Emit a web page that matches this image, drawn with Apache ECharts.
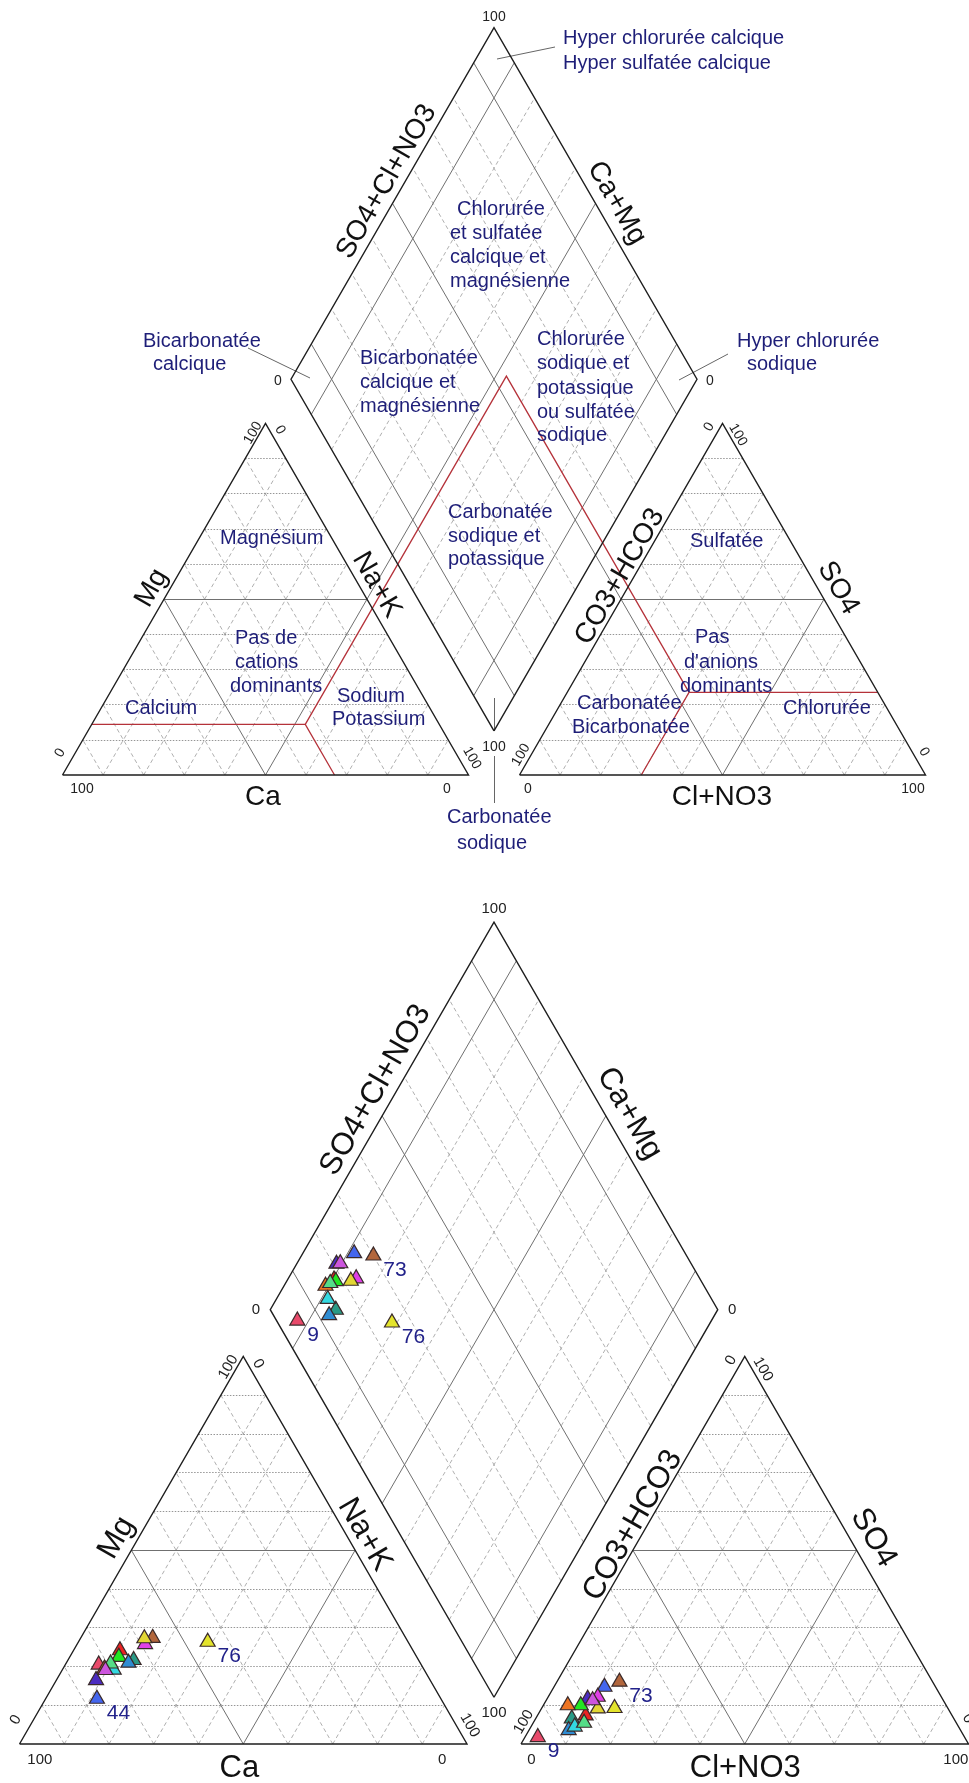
<!DOCTYPE html>
<html>
<head>
<meta charset="utf-8">
<script src="https://cdn.jsdelivr.net/npm/echarts@6/dist/echarts.min.js"></script>
<style>
html, body { margin: 0; padding: 0; background: #fff; }
#chart { width: 969px; height: 1783px; }
</style>
</head>
<body>
<div id="chart"></div>
<script>
// ---- samples plotted on the lower diagram (meq %) ----
var sampleIds    = ['9', '44', '', '73', '76', '', '', '', '', '', '', '', '', '', ''];
var sampleColors = ['#e8496a', '#4466ee', '#4b2cc0', '#b2663c', '#e4e42c', '#e040e6', '#e2d634', '#ec2222',
                    '#22e622', '#2a9a86', '#2f8cd2', '#ee7422', '#33d8e0', '#55dd88', '#cc55dd'];
var mgPct  = [21.0, 12.2, 17.0, 27.9, 26.9, 26.3, 27.8, 24.7, 23.0, 22.2, 21.5, 20.0, 19.7, 21.3, 19.6];
var nakPct = [ 7.2, 11.2,  8.6, 15.8, 28.6, 14.9, 14.0, 10.1, 10.7, 14.4, 13.6,  9.0, 11.2,  9.7,  9.4];
var so4Pct = [ 2.3, 15.3, 12.2, 16.6,  9.8, 12.7,  9.7,  7.9, 10.5,  7.1,  4.1, 10.5,  5.0,  6.0, 11.8];
var clPct  = [ 2.6, 11.0,  8.8, 13.7, 16.0, 10.8, 12.3, 10.5,  8.1,  7.8,  8.6,  5.2,  9.5, 11.1, 10.1];
var labelsCation  = ['76', '44'];
var labelsDiamond = ['73', '9', '76'];
var labelsAnion   = ['73', '9'];

// classification boundaries of the upper diagram (%)
var bndMg = 14.4, bndCa = 33, bndSO4 = 23.5, bndCl = 30;

// tick labels
var tick0 = '0', tick100 = '100';

var S3 = Math.sqrt(3) / 2;

function piper(cx, baseY, L, gap) {
    return { cx: cx, baseY: baseY, L: L, gap: gap, s: L / 406,
             lx: cx - gap / 2 - L, rx: cx + gap / 2, dy: baseY - gap * S3 };
}
// cation triangle: Ca bottom-left, Na+K bottom-right, Mg top
function cat(p, mg, nak) { return [p.lx + p.L * (nak + mg / 2) / 100, p.baseY - p.L * S3 * mg / 100]; }
// anion triangle: CO3+HCO3 bottom-left, Cl+NO3 bottom-right, SO4 top
function an(p, so4, cl) { return [p.rx + p.L * (cl + so4 / 2) / 100, p.baseY - p.L * S3 * so4 / 100]; }
// diamond: u = Ca+Mg, v = SO4+Cl
function dia(p, u, v) { return [p.cx + p.L * (v - u) / 200, p.dy - p.L * S3 * (u + v) / 100]; }
function tp(p, x, y) { return [p.cx + (x - 494) * p.s, p.baseY + (y - 775) * p.s]; }

var pTop = piper(494, 775, 406, 51);
var pBot = piper(494, 1744, 447.5, 54);

var dashed = [], dotted = [], solid = [], frame = [], red = [], leaders = [];

function addGrid(p) {
    for (var k = 10; k < 100; k += 10) {
        var b = k === 50 ? solid : dashed;
        var h = k === 50 ? solid : dotted;
        h.push({ coords: [cat(p, k, 0), cat(p, k, 100 - k)] });
        b.push({ coords: [cat(p, 0, 100 - k), cat(p, 100 - k, 0)] });
        b.push({ coords: [cat(p, 0, k), cat(p, 100 - k, k)] });
        h.push({ coords: [an(p, k, 0), an(p, k, 100 - k)] });
        b.push({ coords: [an(p, 0, k), an(p, 100 - k, k)] });
        b.push({ coords: [an(p, 0, 100 - k), an(p, 100 - k, 0)] });
        var d = (k === 10 || k === 50 || k === 90) ? solid : dashed;
        d.push({ coords: [dia(p, k, 0), dia(p, k, 100)] });
        d.push({ coords: [dia(p, 0, k), dia(p, 100, k)] });
    }
    frame.push({ coords: [cat(p, 0, 0), cat(p, 0, 100), cat(p, 100, 0), cat(p, 0, 0)] });
    frame.push({ coords: [an(p, 0, 0), an(p, 0, 100), an(p, 100, 0), an(p, 0, 0)] });
    frame.push({ coords: [dia(p, 0, 0), dia(p, 100, 0), dia(p, 100, 100), dia(p, 0, 100), dia(p, 0, 0)] });
}
addGrid(pTop);
addGrid(pBot);

// classification lines (upper diagram)
var nakV = 100 - bndCa - bndMg;
var hco3V = 100 - bndSO4 - bndCl;
var cV = cat(pTop, bndMg, nakV);
var aV = an(pTop, bndSO4, bndCl);
red.push({ coords: [cat(pTop, bndMg, 0), cV, cat(pTop, 0, 100 - bndCa)] });
red.push({ coords: [cV, dia(pTop, 100 - nakV, 100 - hco3V), aV] });
red.push({ coords: [an(pTop, 0, bndCl), aV, an(pTop, bndSO4, 100 - bndSO4)] });
solid.push({ coords: [cat(pTop, 50, 50), dia(pTop, 50, 0)] });
solid.push({ coords: [an(pTop, 50, 0), dia(pTop, 0, 50)] });

leaders.push({ coords: [[555, 47], [497, 59]] });
leaders.push({ coords: [[248, 348], [310, 378]] });
leaders.push({ coords: [[728, 354], [679, 380]] });
leaders.push({ coords: [[494, 698], [494, 731]] });
leaders.push({ coords: [[494, 756], [494, 803]] });

// ---- texts ----
var graphics = [];
function txt(x, y, text, size, color, rot, align) {
    graphics.push({
        type: 'text', x: x, y: y, rotation: rot || 0, z: 50, silent: true,
        style: { text: text, fill: color, font: size + 'px "Liberation Sans", Arial, sans-serif',
                 align: align || 'center', verticalAlign: 'middle',
                 textAlign: align || 'center', textVerticalAlign: 'middle' }
    });
}
var R = Math.PI / 3;
function axisTexts(p) {
    var f = Math.round(28 * p.s), t = Math.round(14 * p.s);
    var titles = [['SO4+Cl+NO3', 386.7, 181.7, R], ['Ca+Mg', 616.7, 203, -R], ['Mg', 151.7, 588, R],
                  ['Na+K', 376.7, 585, -R], ['CO3+HCO3', 620, 576.7, R], ['SO4', 838.3, 588, -R],
                  ['Ca', 263, 797, 0], ['Cl+NO3', 722, 797, 0]];
    titles.forEach(function (a) { var q = tp(p, a[1], a[2]); txt(q[0], q[1], a[0], f, '#111', a[3]); });
    var ticks = [[tick100, 494, 17, 0], [tick0, 278, 381, 0], [tick0, 710, 381, 0], [tick100, 494, 747, 0],
                 [tick100, 82, 789, 0], [tick0, 447, 789, 0], [tick0, 60, 753, R], [tick100, 253, 433, R],
                 [tick0, 280, 430, -R], [tick100, 472, 758, -R],
                 [tick0, 528, 789, 0], [tick100, 913, 789, 0], [tick100, 521, 755, R], [tick0, 709, 427, R],
                 [tick100, 738, 435, -R], [tick0, 924, 752, -R]];
    ticks.forEach(function (a) { var q = tp(p, a[1], a[2]); txt(q[0], q[1], a[0], t, '#222', a[3]); });
}
axisTexts(pTop);
axisTexts(pBot);

var navy = '#1e1e78';
var notes = [
    ['Hyper chlorurée calcique', 563, 38], ['Hyper sulfatée calcique', 563, 63],
    ['Bicarbonatée', 143, 341], ['calcique', 153, 364],
    ['Hyper chlorurée', 737, 341], ['sodique', 747, 364],
    ['Chlorurée', 457, 209], ['et sulfatée', 450, 233], ['calcique et', 450, 257], ['magnésienne', 450, 281],
    ['Bicarbonatée', 360, 358], ['calcique et', 360, 382], ['magnésienne', 360, 406],
    ['Chlorurée', 537, 339], ['sodique et', 537, 363], ['potassique', 537, 388], ['ou sulfatée', 537, 412], ['sodique', 537, 435],
    ['Carbonatée', 448, 512], ['sodique et', 448, 536], ['potassique', 448, 559],
    ['Magnésium', 220, 538],
    ['Pas de', 235, 638], ['cations', 235, 662], ['dominants', 230, 686],
    ['Calcium', 125, 708],
    ['Sodium', 337, 696], ['Potassium', 332, 719],
    ['Sulfatée', 690, 541],
    ['Pas', 695, 637], ["d'anions", 684, 662], ['dominants', 680, 686],
    ['Carbonatée', 577, 703], ['Bicarbonatée', 572, 727],
    ['Chlorurée', 783, 708],
    ['Carbonatée', 447, 817], ['sodique', 457, 843]
];
notes.forEach(function (a) { txt(a[1], a[2], a[0], 20, navy, 0, 'left'); });

// ---- sample markers ----
function points(fn, labels) {
    var out = [];
    for (var i = 0; i < sampleIds.length; i++) {
        out.push({
            value: fn(i), name: sampleIds[i],
            itemStyle: { color: sampleColors[i] },
            label: { show: labels.indexOf(sampleIds[i]) >= 0 && sampleIds[i] !== '' }
        });
    }
    return out;
}
var ptsCat = points(function (i) { return cat(pBot, mgPct[i], nakPct[i]); }, labelsCation);
var ptsAn  = points(function (i) { return an(pBot, so4Pct[i], clPct[i]); }, labelsAnion);
var ptsDia = points(function (i) {
    return dia(pBot, 100 - nakPct[i], so4Pct[i] + clPct[i]);
}, labelsDiamond);

function lineSeries(data, style, poly) {
    style.opacity = 1;
    return { type: 'lines', coordinateSystem: 'cartesian2d', polyline: !!poly, silent: true,
             data: data, lineStyle: style, z: 2 };
}
function markSeries(data) {
    return {
        type: 'scatter', data: data, symbol: 'triangle', symbolSize: [15, 13], z: 10, silent: true,
        itemStyle: { borderColor: '#3a2a2a', borderWidth: 1.2, opacity: 1 },
        label: { position: [18, 13], formatter: '{b}', color: '#22228a', fontSize: 21,
                 fontFamily: '"Liberation Sans", Arial, sans-serif' }
    };
}

var option = {
    animation: false,
    backgroundColor: '#fff',
    grid: { left: 0, right: 0, top: 0, bottom: 0 },
    xAxis: { type: 'value', min: 0, max: 969, show: false },
    yAxis: { type: 'value', min: 0, max: 1783, inverse: true, show: false },
    series: [
        lineSeries(dashed, { color: '#9a9a9a', width: 0.8, type: [4, 3] }),
        lineSeries(dotted, { color: '#8a8a8a', width: 0.9, type: [1.5, 1.5] }),
        lineSeries(solid, { color: '#707070', width: 1 }),
        lineSeries(leaders, { color: '#666', width: 1 }),
        lineSeries(red, { color: '#b5323a', width: 1.3 }, true),
        lineSeries(frame, { color: '#1e1e1e', width: 1.4 }, true),
        markSeries(ptsCat),
        markSeries(ptsAn),
        markSeries(ptsDia)
    ],
    graphic: graphics
};

var chart = echarts.init(document.getElementById('chart'));
chart.setOption(option);
</script>
</body>
</html>
